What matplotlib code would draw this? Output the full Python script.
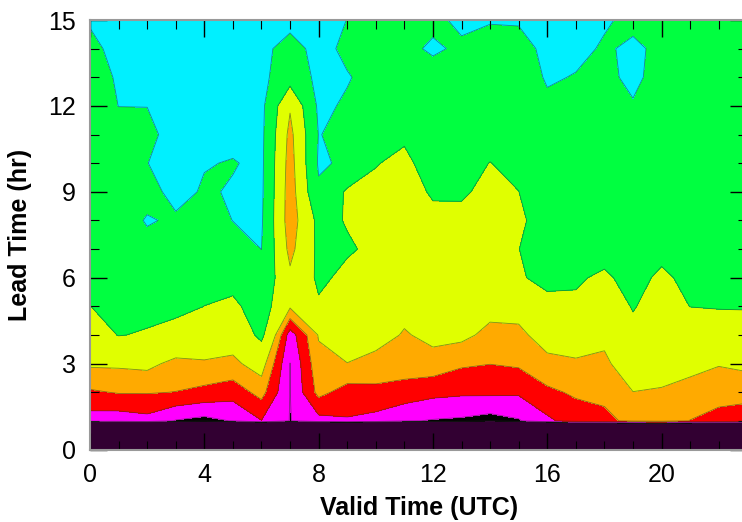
import numpy as np
import matplotlib
matplotlib.use("Agg")
import matplotlib.pyplot as plt
from matplotlib.ticker import MultipleLocator

plt.rcParams['font.family'] = ['Liberation Sans', 'DejaVu Sans']

# Valid time (UTC hour) and forecast lead time (hr)
valid_hours = list(range(24))
lead_hours = list(range(16))

# Score for each lead time, one value per valid hour 0..23
lead_00 = [-30.0, -30.0, -30.0, -30.0, -30.0, -30.0, -30.0, -30.0, -30.0, -30.0, -30.0, -30.0,
           -30.0, -30.0, -30.0, -30.0, -30.0, -30.0, -30.0, -30.0, -30.0, -30.0, -30.0, -30.0]
lead_01 = [1.53, 1.43, 1.66, 0.94, 0.69, 1.05, 1.97, 0.97, 1.66, 1.91, 1.65, 1.10,
           0.93, 0.84, 0.60, 0.91, 1.80, 2.47, 2.74, 3.26, 3.40, 2.98, 2.68, 2.45]
lead_02 = [2.87, 3.07, 3.07, 2.98, 2.73, 2.43, 3.36, 0.98, 3.30, 2.58, 2.75, 2.60,
           2.28, 2.17, 2.19, 2.14, 2.80, 3.15, 3.26, 3.98, 3.90, 3.60, 3.35, 3.34]
lead_03 = [4.17, 4.18, 4.29, 3.70, 3.86, 3.76, 4.52, 0.99, 3.70, 3.98, 3.61, 3.49,
           3.59, 3.15, 3.02, 3.15, 3.71, 3.80, 3.70, 4.98, 4.49, 4.35, 4.07, 4.26]
lead_04 = [5.10, 6.06, 5.85, 5.20, 4.94, 4.56, 6.44, 1.46, 4.08, 4.65, 4.48, 3.90,
           4.30, 4.28, 3.70, 3.75, 4.49, 4.85, 4.37, 5.60, 4.90, 5.10, 5.20, 5.20]
lead_05 = [5.99, 6.29, 6.48, 6.56, 5.99, 5.60, 6.97, 4.16, 5.80, 5.15, 4.90, 4.35,
           4.70, 4.70, 4.37, 4.41, 5.86, 5.85, 5.10, 6.10, 5.35, 6.02, 6.09, 6.12]
lead_06 = [6.20, 6.51, 6.90, 6.95, 6.45, 6.68, 7.50, 4.35, 6.30, 5.64, 5.30, 4.70,
           5.05, 5.05, 4.75, 5.95, 6.13, 6.11, 5.85, 6.32, 5.82, 6.25, 6.30, 6.30]
lead_07 = [6.40, 6.74, 7.36, 7.35, 6.90, 7.36, 8.01, 3.50, 6.40, 6.17, 5.70, 5.00,
           5.35, 5.35, 5.10, 5.99, 6.41, 6.37, 6.35, 6.58, 6.28, 6.45, 6.50, 6.50]
lead_08 = [6.61, 6.96, 8.17, 7.72, 7.33, 8.02, 8.20, 3.05, 6.50, 5.90, 5.70, 5.25,
           5.70, 5.70, 5.40, 5.73, 6.70, 6.64, 6.60, 6.84, 6.50, 6.65, 6.70, 6.70]
lead_09 = [6.82, 7.19, 7.32, 8.60, 7.80, 8.15, 8.30, 3.10, 7.74, 5.74, 5.80, 5.50,
           6.14, 6.15, 5.70, 5.99, 6.98, 6.90, 6.85, 7.10, 6.70, 6.85, 6.85, 6.85]
lead_10 = [7.02, 7.42, 7.97, 8.70, 8.10, 7.90, 8.35, 3.25, 8.21, 7.75, 6.04, 5.80,
           6.40, 6.35, 5.98, 6.30, 7.26, 7.16, 7.10, 7.37, 6.90, 7.00, 7.00, 7.00]
lead_11 = [7.23, 7.64, 7.60, 8.60, 8.40, 8.50, 8.40, 3.50, 8.05, 7.60, 6.50, 6.14,
           6.60, 6.55, 6.40, 6.70, 7.54, 7.43, 7.35, 7.63, 7.10, 7.15, 7.15, 7.15]
lead_12 = [7.44, 8.01, 8.02, 8.70, 8.60, 8.80, 8.45, 4.17, 8.30, 7.82, 6.90, 6.60,
           6.80, 6.80, 6.80, 7.10, 7.80, 7.69, 7.55, 7.89, 7.30, 7.30, 7.30, 7.30]
lead_13 = [7.64, 8.09, 8.10, 8.80, 8.70, 9.00, 8.45, 6.82, 8.40, 8.10, 7.50, 7.00,
           7.00, 7.10, 7.20, 7.40, 8.11, 7.95, 7.68, 8.30, 7.47, 7.45, 7.40, 7.40]
lead_14 = [7.85, 8.18, 8.20, 8.90, 8.80, 9.10, 8.40, 7.40, 8.50, 7.67, 7.60, 7.40,
           8.35, 7.60, 7.60, 7.70, 8.20, 8.23, 7.90, 8.15, 7.82, 7.55, 7.50, 7.50]
lead_15 = [8.06, 8.25, 8.30, 9.00, 8.90, 9.20, 8.50, 8.50, 8.60, 7.98, 7.70, 7.60,
           7.45, 8.50, 8.07, 8.08, 8.30, 8.30, 8.10, 7.80, 7.70, 7.65, 7.60, 7.60]

score_levels = [-31, 0.5, 1, 2, 3, 4, 6, 8, 10]
band_colors = ['#320032', '#000000', '#ff00ff', '#ff0000', '#ffaa00',
               '#e0ff00', '#00ff40', '#00f0ff']

score = np.array([lead_00, lead_01, lead_02, lead_03, lead_04, lead_05, lead_06, lead_07,
                  lead_08, lead_09, lead_10, lead_11, lead_12, lead_13, lead_14, lead_15])

fig = plt.figure(figsize=(7.42, 5.22), dpi=100)
ax = fig.add_axes([90 / 742, 72.5 / 522, 657.3 / 742, 429.5 / 522])

ax.contourf(valid_hours, lead_hours, score, levels=score_levels, colors=band_colors)
ax.contour(valid_hours, lead_hours, score, levels=score_levels[1:-1],
           colors='#303030', linewidths=0.6, alpha=0.55)

ax.set_xlim(0, 23)
ax.set_ylim(0, 15)
ax.set_xticks([0, 4, 8, 12, 16, 20])
ax.set_yticks([0, 3, 6, 9, 12, 15])
ax.xaxis.set_minor_locator(MultipleLocator(1))
ax.yaxis.set_minor_locator(MultipleLocator(1))
ax.tick_params(which='both', direction='in', top=True, right=True, color='black')
ax.tick_params(which='major', length=12, width=1.0, labelsize=18, pad=10)
ax.tick_params(which='minor', length=6.5, width=0.8)
for spine in ax.spines.values():
    spine.set_color('#999999')
    spine.set_linewidth(1.5)

ax.set_xlabel('Valid Time (UTC)', fontsize=18, fontweight='bold', labelpad=6)
ax.set_ylabel('Lead Time (hr)', fontsize=18, fontweight='bold', labelpad=12)

fig.savefig('out.png', dpi=100)
